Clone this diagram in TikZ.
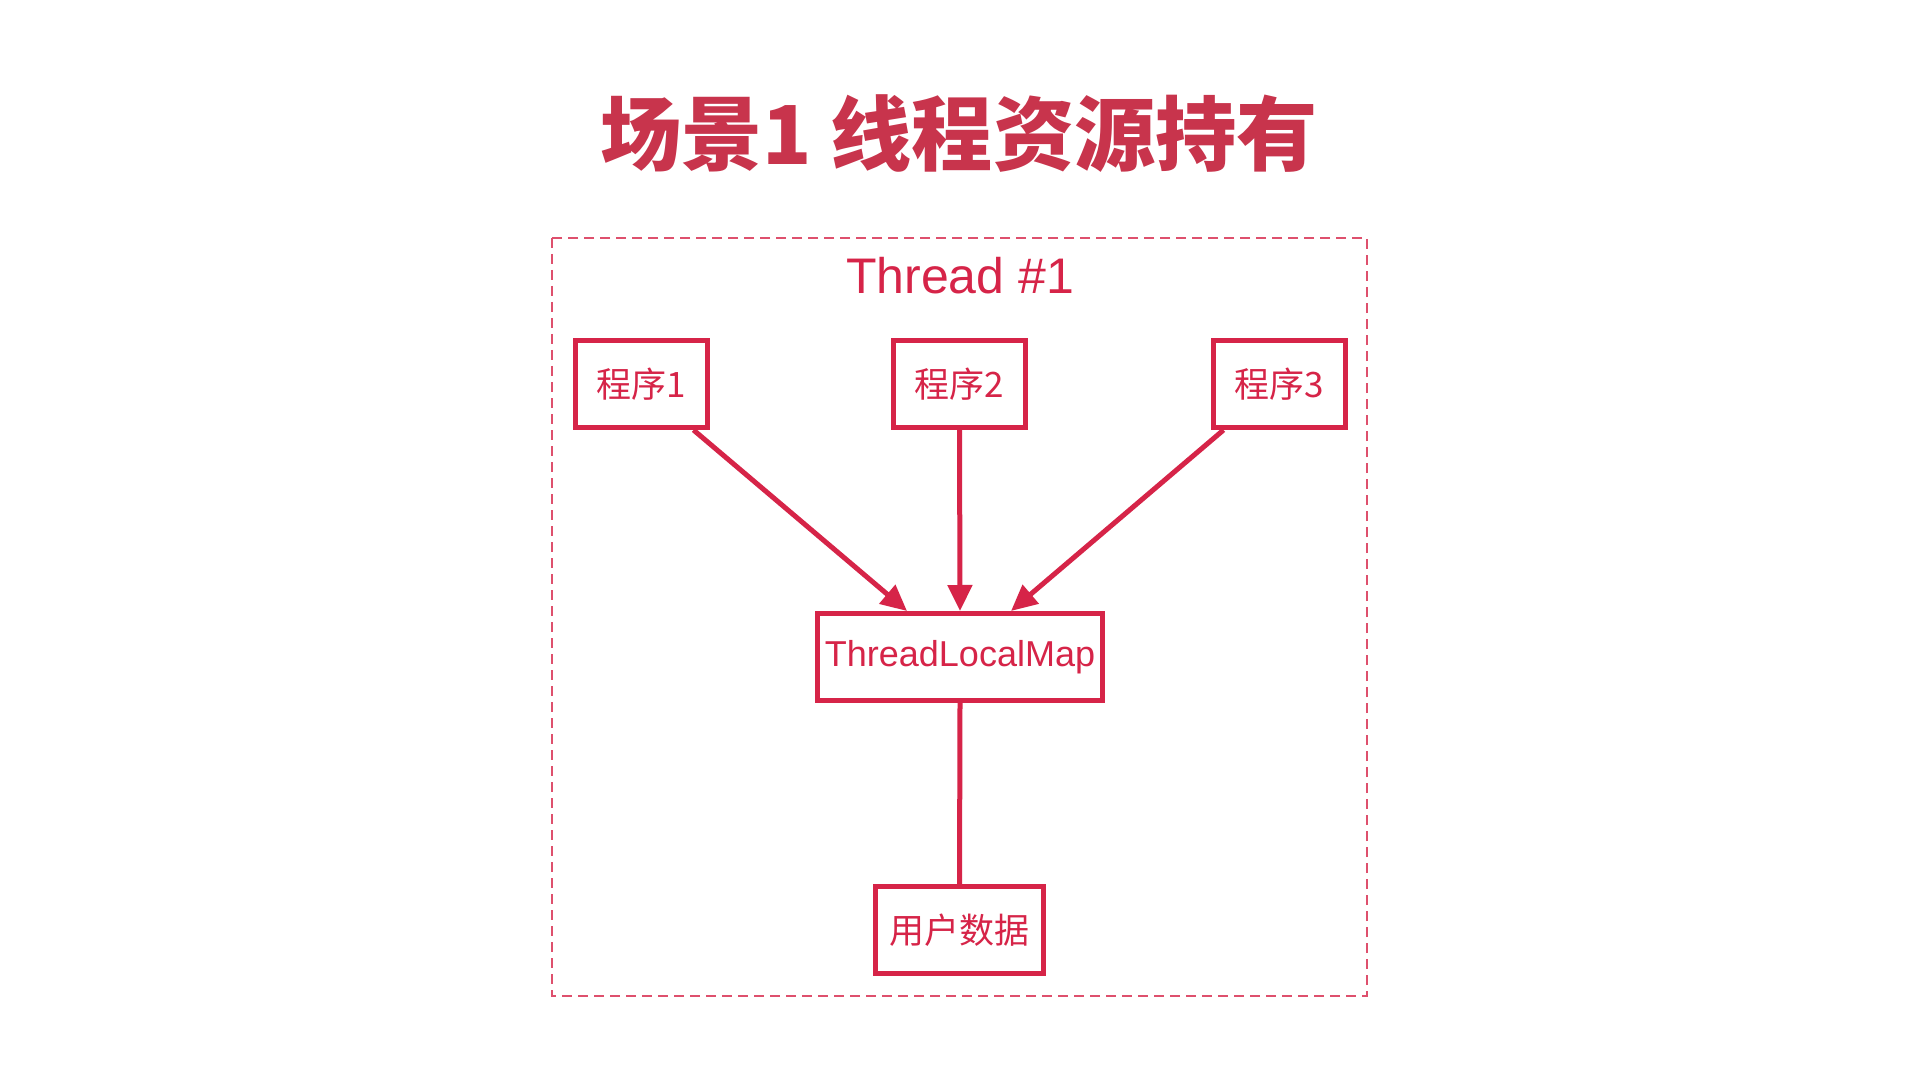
\documentclass[tikz,border=0pt]{standalone}
\usepackage{fontspec}
\setmainfont{Liberation Sans}
\newfontfamily\cjk{Noto Sans CJK SC}
\usetikzlibrary{arrows.meta}
\definecolor{titlered}{RGB}{200,52,76}
\definecolor{boxred}{RGB}{214,36,72}
\tikzset{
  prog/.style={draw=boxred, line width=2.5pt, minimum width=66pt, minimum height=43.5pt, inner sep=0pt, text=boxred, font=\cjk\fontsize{17.5}{20}\selectfont},
  conn/.style={draw=boxred, line width=2.5pt},
  arr/.style={conn, -{Triangle[length=13pt,width=12pt]}},
}
\begin{document}
\begin{tikzpicture}[x=0.5pt,y=-0.5pt]
\useasboundingbox[fill=white] (0,0) rectangle (1920,1080);
\node[text=titlered, font=\cjk\bfseries\fontsize{40.6}{46}\selectfont] (title) at (959,134) {场景1 线程资源持有};
\draw[draw=boxred!80, line width=1.2pt, dash pattern=on 5pt off 3pt] (552,238) rectangle (1367,996);
\node[text=boxred, font=\fontsize{25}{28}\selectfont] (thread) at (960,276) {Thread \#1};
\node[prog] (p1) at (641,384) {程序1};
\node[prog] (p2) at (959.5,384) {程序2};
\node[prog] (p3) at (1279,384) {程序3};
\node[prog, minimum width=142.5pt, font=\fontsize{18}{21}\selectfont] (tlm) at (960,657) {ThreadLocalMap};
\node[prog, minimum width=84pt] (user) at (959.5,930) {用户数据};
\draw[arr] ([xshift=-8pt]p1.south east) -- ([xshift=-26.5pt]tlm.north);
\draw[arr] (p2.south) -- (tlm.north);
\draw[arr] ([xshift=6.5pt]p3.south west) -- ([xshift=25.5pt]tlm.north);
\draw[conn] (tlm.south) -- (user.north);
\end{tikzpicture}
\end{document}
